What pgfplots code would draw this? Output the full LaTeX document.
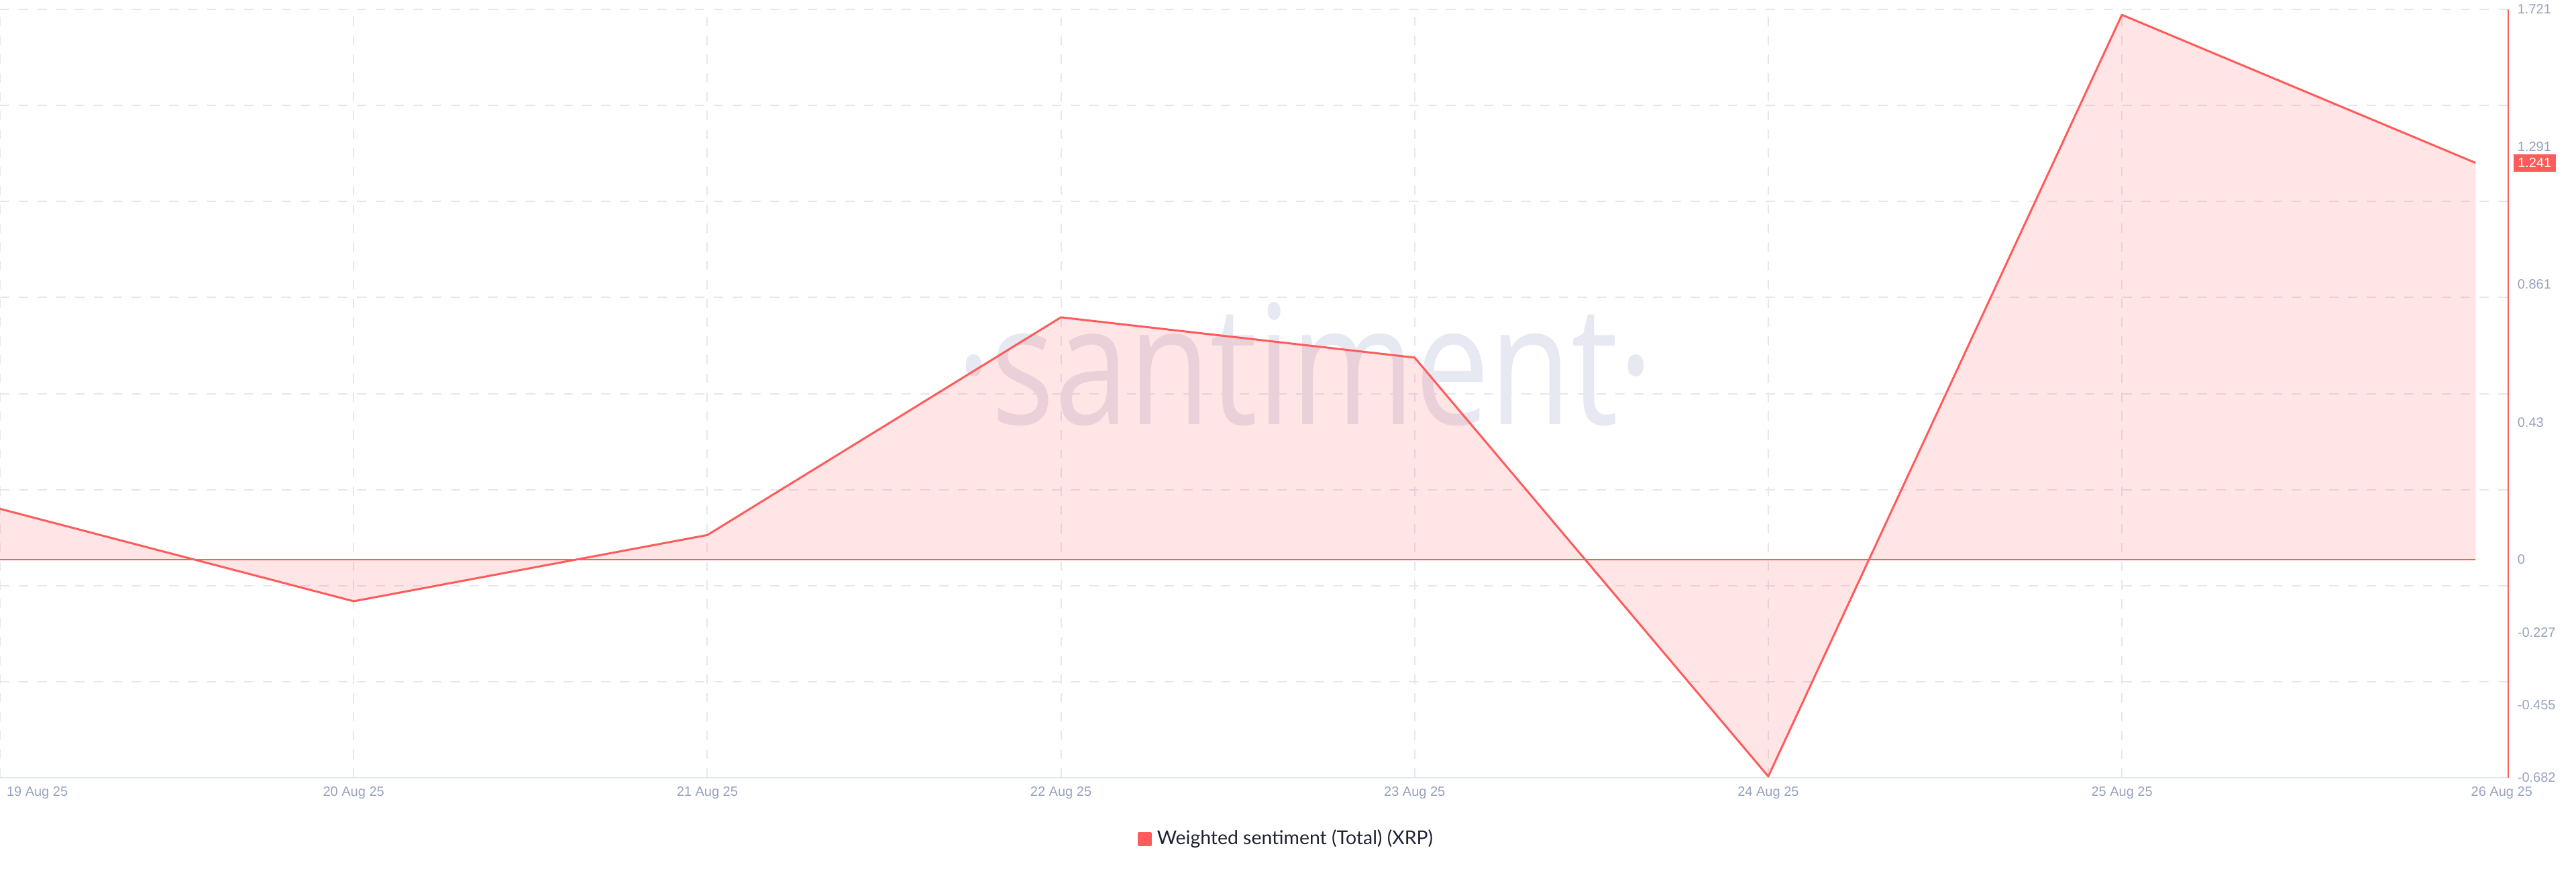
\documentclass[border=0pt]{standalone}
\usepackage{graphicx}
\usepackage{pgfplots}
\pgfplotsset{compat=1.18}
\usepackage{fontspec}
\setmainfont{Liberation Sans}
\newfontfamily\legendfont{Lato}
\newfontfamily\markfont{Open Sans}
\definecolor{sanred}{RGB}{255,91,91}
\definecolor{ticktext}{RGB}{152,162,192}
\definecolor{gridc}{RGB}{228,231,240}
\definecolor{basec}{RGB}{225,229,239}
\definecolor{legtext}{RGB}{30,33,50}
\definecolor{wmark}{RGB}{230,232,242}

\begin{document}
\begin{tikzpicture}
\begin{axis}[
    at={(0pt,0pt)}, anchor=south west,
    scale only axis,
    width=934.75pt, height=286.25pt,
    xmin=0, xmax=7.0925,
    ymin=-0.682, ymax=1.721,
    clip=false,
    axis x line*=bottom, axis y line*=right,
    x axis line style={draw=basec, line width=0.5pt, -},
    y axis line style={draw=sanred, line width=0.6pt, -},
    major tick length=0pt,
    xtick={0,...,7},
    xticklabels={{\makebox[0pt][l]{\hspace{2.5pt}19 Aug 25}},20 Aug 25,21 Aug 25,22 Aug 25,23 Aug 25,24 Aug 25,25 Aug 25,{\makebox[0pt]{\hspace{19.5pt}26 Aug 25}}},
    ytick={-0.682,-0.455,-0.227,0,0.43,0.861,1.291,1.721},
    yticklabels={-0.682,-0.455,-0.227,0,0.43,0.861,1.291,1.721},
    extra x ticks={0,...,6}, extra x tick labels={},
    extra y ticks={-0.3817,-0.0813,0.2191,0.5194,0.8198,1.1201,1.4205,1.721},
    extra y tick labels={},
    extra tick style={grid=major,
        major grid style={gridc, line width=0.5pt, dash pattern=on 3.5pt off 3.5pt}},
    ticklabel style={font=\fontsize{5}{6}\selectfont, text=ticktext},
    xticklabel style={anchor=north, inner sep=0pt, yshift=-3.25pt},
    yticklabel style={anchor=west, inner sep=0pt, xshift=3.25pt},
    legend style={at={(0.5135,-0.0803)}, anchor=center, draw=none, fill=none,
        font=\legendfont\fontsize{7.1}{8}\selectfont, text=legtext, inner sep=0pt},
    legend image code/.code={\fill[sanred] (0pt,-2.25pt) rectangle (4.5pt,2.25pt);},
]

% watermark behind the area
\node[font=\markfont\fontsize{62}{62}\selectfont, text=wmark, anchor=base]
    at (axis cs:3.69,0.422) {\scalebox{0.8}[1]{·santiment·}};

\addplot[draw=none, fill=sanred, fill opacity=0.16, forget plot]
    coordinates {(0,0) (0,0.159) (1,-0.130) (2,0.077) (3,0.758) (4,0.632) (5,-0.678) (6,1.704) (7,1.241) (7,0)} -- cycle;
\addplot[sanred, line width=0.4pt, forget plot] coordinates {(0,0) (7,0)};
\addplot[sanred, line width=0.75pt, line join=round]
    coordinates {(0,0.159) (1,-0.130) (2,0.077) (3,0.758) (4,0.632) (5,-0.678) (6,1.704) (7,1.241)};
\addlegendentry{Weighted sentiment (Total) (XRP)}

\node[fill=sanred, text=white, font=\fontsize{5}{6}\selectfont,
    inner xsep=1.6pt, inner ysep=1.5pt, anchor=west, xshift=1.75pt]
    at (axis cs:7.0925,1.241) {1.241};
\end{axis}
\pgfresetboundingbox
\path[use as bounding box] (0pt,-35.25pt) rectangle (960pt,289.75pt);
\end{tikzpicture}
\end{document}
